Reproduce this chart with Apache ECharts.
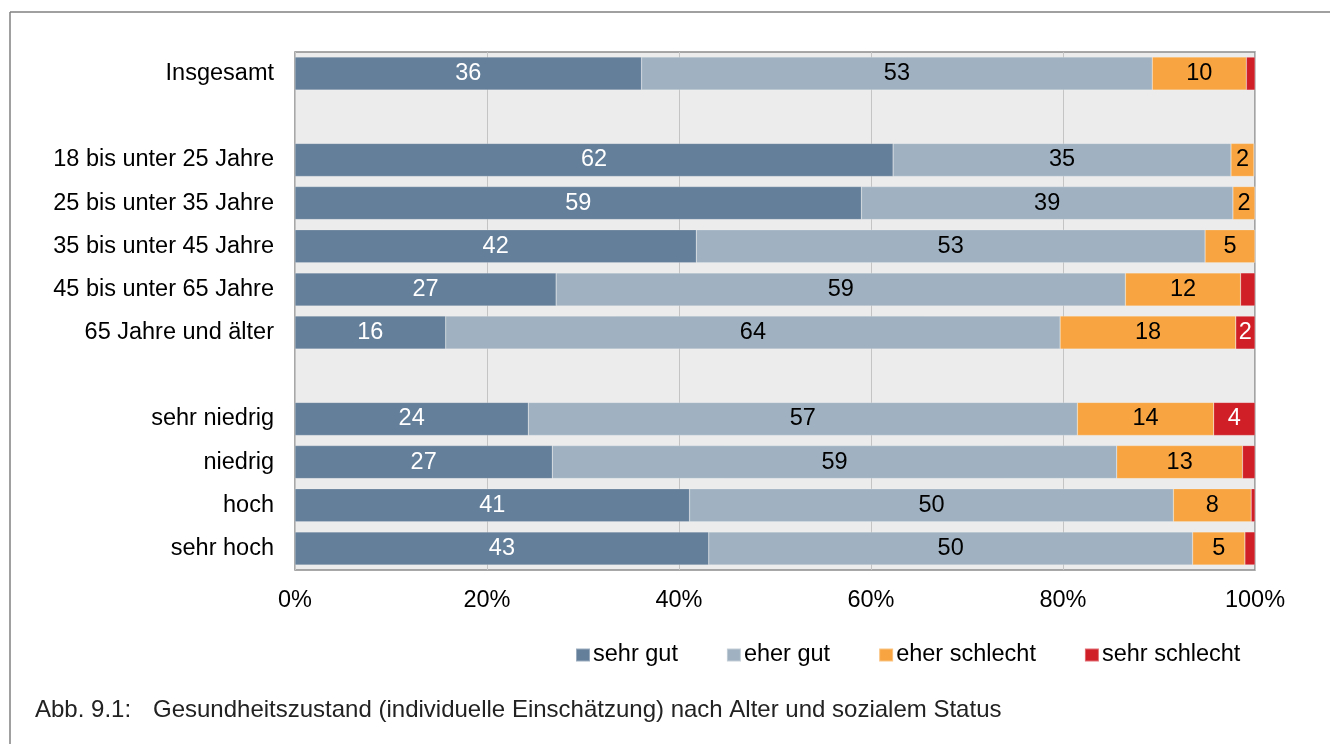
<!DOCTYPE html>
<html><head><meta charset="utf-8">
<script src="https://cdn.jsdelivr.net/npm/echarts@6/dist/echarts.min.js"></script>
<style>html,body{margin:0;padding:0;background:#fff}#c{width:1330px;height:744px}</style>
</head><body><div id="c"></div>
<script>
const categories = ['Insgesamt', ' ', '18 bis unter 25 Jahre', '25 bis unter 35 Jahre', '35 bis unter 45 Jahre', '45 bis unter 65 Jahre', '65 Jahre und älter', '  ', 'sehr niedrig', 'niedrig', 'hoch', 'sehr hoch'];
const sehrGut      = [36.1, null, 62.3, 59.0, 41.8, 27.2, 15.7, null, 24.3, 26.8, 41.1, 43.1];
const eherGut      = [53.2, null, 35.2, 38.7, 53.0, 59.3, 64.0, null, 57.2, 58.8, 50.4, 50.4];
const eherSchlecht = [9.8,  null, 2.4,  2.3,  5.2,  12.0, 18.3, null, 14.2, 13.1, 8.1,  5.45];
const sehrSchlecht = [0.9,  null, 0,    0,    0,    1.5,  2.0,  null, 4.3,  1.3,  0.4,  1.05];
const seriesNames = ['sehr gut', 'eher gut', 'eher schlecht', 'sehr schlecht'];
const xTicks = ['0%', '20%', '40%', '60%', '80%', '100%'];

const colors = ['#647f9a', '#a0b2c1', '#f8a541', '#d01f27'];
const labelColors = ['#ffffff', '#000000', '#000000', '#ffffff'];
const FONT = 'Liberation Sans, Arial, sans-serif';
const FS = 23.5;

const chart = echarts.init(document.getElementById('c'), null, {renderer: 'canvas'});
const datas = [sehrGut, eherGut, eherSchlecht, sehrSchlecht];
const series = datas.map((d, i) => ({
  name: seriesNames[i],
  type: 'bar',
  stack: 'total',
  data: d,
  barWidth: 33,
  itemStyle: {color: colors[i], borderColor: 'rgba(255,255,255,0.35)', borderWidth: 0.5},
  label: {
    show: true, position: 'inside', color: labelColors[i],
    fontFamily: FONT, fontSize: FS,
    formatter: p => (p.value != null && p.value >= 1.8) ? String(Math.round(p.value)) : ''
  },
  emphasis: {disabled: true},
  silent: true
}));

chart.setOption({
  animation: false,
  textStyle: {fontFamily: FONT},
  grid: {left: 295, top: 52, width: 960, height: 518, show: true, backgroundColor: '#ececec', borderColor: '#8c8c8c', borderWidth: 1.5},
  xAxis: {
    type: 'value', min: 0, max: 100, interval: 20,
    axisLine: {show: false}, axisTick: {show: false},
    splitLine: {show: true, lineStyle: {color: '#c4c4c4', width: 1}},
    axisLabel: {color: '#000', fontSize: FS, fontFamily: FONT, margin: 19,
      formatter: v => xTicks[Math.round(v / 20)]}
  },
  yAxis: {
    type: 'category', data: categories, inverse: true,
    axisLine: {show: false}, axisTick: {show: false},
    axisLabel: {color: '#000', fontSize: FS, fontFamily: FONT, margin: 21}
  },
  legend: {
    data: seriesNames, left: 570, top: 638, itemWidth: 14, itemHeight: 13, itemGap: 48,
    icon: 'rect',
    textStyle: {color: '#000', fontSize: FS, fontFamily: FONT, padding: [0, 0, 0, -2]}
  },
  graphic: [
    {type: 'line', shape: {x1: 10, y1: 12, x2: 1330, y2: 12}, style: {stroke: '#808080', lineWidth: 1.5}, silent: true},
    {type: 'line', shape: {x1: 10, y1: 12, x2: 10, y2: 744}, style: {stroke: '#808080', lineWidth: 1.5}, silent: true},
    {type: 'text', left: 35, top: 698, style: {text: 'Abb. 9.1:', fontSize: 24, fontFamily: FONT, fill: '#222'}},
    {type: 'text', left: 153, top: 698, style: {text: 'Gesundheitszustand (individuelle Einschätzung) nach Alter und sozialem Status', fontSize: 24, fontFamily: FONT, fill: '#222'}}
  ],
  series: series
});
</script>
</body></html>
